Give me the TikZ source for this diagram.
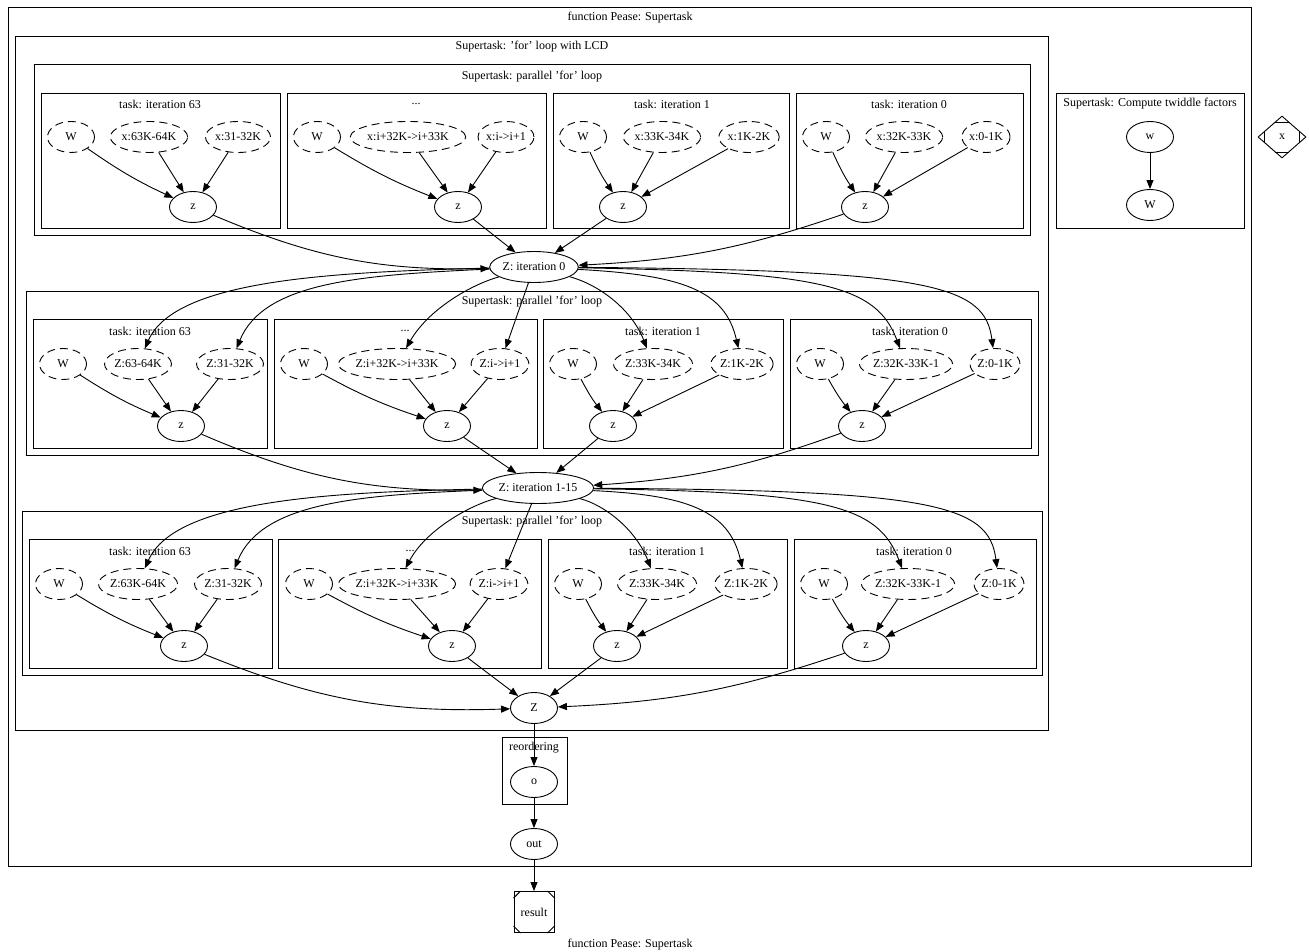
\documentclass[tikz,border=0pt]{standalone}
\usepackage{fontspec}
\setmainfont{Liberation Serif}
\usetikzlibrary{shapes.geometric,arrows.meta,calc}
\begin{document}
\begin{tikzpicture}[x=1pt,y=-1pt,
  font=\fontsize{12}{14}\selectfont,
  box/.style={draw, line width=0.9pt},
  lbl/.style={inner sep=0pt},
  el/.style={ellipse, draw, line width=0.9pt, inner sep=0pt, minimum width=47pt, minimum height=31pt},
  del/.style={el, dash pattern=on 8pt off 5pt},
  arr/.style={line width=0.9pt, -{Triangle[length=9pt,width=7pt]}},
  cornerln/.style={line width=0.9pt}]
\useasboundingbox (0,0) rectangle (1309,952);

% ---- clusters ----
\draw[box] (8,7) rectangle (1251,866);
\node[lbl] (lOuter) at (630,18) {function Pease: Supertask};
\draw[box] (15,36) rectangle (1048,730);
\node[lbl] (lLCD) at (532,47) {Supertask: 'for' loop with LCD};

\draw[box] (34,64) rectangle (1030,235);
\node[lbl] (lPa) at (532,77) {Supertask: parallel 'for' loop};
\draw[box] (26,291) rectangle (1038,455);
\node[lbl] (lPb) at (532,302) {Supertask: parallel 'for' loop};
\draw[box] (22,511) rectangle (1042,675);
\node[lbl] (lPc) at (532,522) {Supertask: parallel 'for' loop};

% ---- row a ----
\draw[box] (41,93) rectangle (280,228);
\node[lbl] (la1) at (160,104) {task: iteration 63};
\node[del] (a1w) at (71,137) {W};
\node[del] (a1p) at (149,137) {x:63K-64K};
\node[del] (a1q) at (238,137) {x:31-32K};
\node[el]  (a1z) at (193,207) {z};

\draw[box] (287,93) rectangle (546,228);
\node[lbl] (la2) at (416,104) {...};
\node[del] (a2w) at (317,137) {W};
\node[del] (a2p) at (408,137) {x:i+32K->i+33K};
\node[del] (a2q) at (506,137) {x:i->i+1};
\node[el]  (a2z) at (458,207) {z};

\draw[box] (553,93) rectangle (789,228);
\node[lbl] (la3) at (672,104) {task: iteration 1};
\node[del] (a3w) at (583,137) {W};
\node[del] (a3p) at (662,137) {x:33K-34K};
\node[del] (a3q) at (749,137) {x:1K-2K};
\node[el]  (a3z) at (623,207) {z};

\draw[box] (796,93) rectangle (1023,228);
\node[lbl] (la4) at (909,104) {task: iteration 0};
\node[del] (a4w) at (826,137) {W};
\node[del] (a4p) at (904,137) {x:32K-33K};
\node[del] (a4q) at (986,137) {x:0-1K};
\node[el]  (a4z) at (865,207) {z};

\node[el] (Z0) at (534,267) {Z: iteration 0};

% ---- row b ----
\draw[box] (33,319) rectangle (267,448);
\node[lbl] (lb1) at (150,331) {task: iteration 63};
\node[del] (b1w) at (63,364) {W};
\node[del] (b1p) at (138,364) {Z:63-64K};
\node[del] (b1q) at (230,364) {Z:31-32K};
\node[el]  (b1z) at (181,426) {z};

\draw[box] (274,319) rectangle (537,448);
\node[lbl] (lb2) at (405,331) {...};
\node[del] (b2w) at (304,364) {W};
\node[del] (b2p) at (397,364) {Z:i+32K->i+33K};
\node[del] (b2q) at (500,364) {Z:i->i+1};
\node[el]  (b2z) at (447,426) {z};

\draw[box] (543,319) rectangle (783,448);
\node[lbl] (lb3) at (663,331) {task: iteration 1};
\node[del] (b3w) at (573,364) {W};
\node[del] (b3p) at (653,364) {Z:33K-34K};
\node[del] (b3q) at (742,364) {Z:1K-2K};
\node[el]  (b3z) at (613,426) {z};

\draw[box] (790,319) rectangle (1031,448);
\node[lbl] (lb4) at (910,331) {task: iteration 0};
\node[del] (b4w) at (820,364) {W};
\node[del] (b4p) at (906,364) {Z:32K-33K-1};
\node[del] (b4q) at (995,364) {Z:0-1K};
\node[el]  (b4z) at (862,426) {z};

\node[el] (Z1) at (538,488) {Z: iteration 1-15};

% ---- row c ----
\draw[box] (29,539) rectangle (272,668);
\node[lbl] (lc1) at (150,551) {task: iteration 63};
\node[del] (c1w) at (59,584) {W};
\node[del] (c1p) at (138,584) {Z:63K-64K};
\node[del] (c1q) at (228,584) {Z:31-32K};
\node[el]  (c1z) at (184,646) {z};

\draw[box] (278,539) rectangle (541,668);
\node[lbl] (lc2) at (410,551) {...};
\node[del] (c2w) at (309,584) {W};
\node[del] (c2p) at (397,584) {Z:i+32K->i+33K};
\node[del] (c2q) at (499,584) {Z:i->i+1};
\node[el]  (c2z) at (452,646) {z};

\draw[box] (548,539) rectangle (787,668);
\node[lbl] (lc3) at (667,551) {task: iteration 1};
\node[del] (c3w) at (578,584) {W};
\node[del] (c3p) at (657,584) {Z:33K-34K};
\node[del] (c3q) at (746,584) {Z:1K-2K};
\node[el]  (c3z) at (617,646) {z};

\draw[box] (794,539) rectangle (1036,668);
\node[lbl] (lc4) at (914,551) {task: iteration 0};
\node[del] (c4w) at (824,584) {W};
\node[del] (c4p) at (908,584) {Z:32K-33K-1};
\node[del] (c4q) at (999,584) {Z:0-1K};
\node[el]  (c4z) at (866,646) {z};

\node[el] (Zf) at (534,708) {Z};

% ---- reordering / output ----
\draw[box] (502,737) rectangle (567,804);
\node[lbl] (lre) at (534,748) {reordering};
\node[el] (o) at (534,782) {o};
\node[el] (out) at (534,844) {out};
\node[draw, line width=0.9pt, minimum width=40pt, minimum height=41pt, inner sep=0pt] (res) at (534,912) {result};
\draw[cornerln] ($(res.north west)+(0,7)$) -- ($(res.north west)+(7,0)$);
\draw[cornerln] ($(res.north east)+(0,7)$) -- ($(res.north east)+(-7,0)$);
\draw[cornerln] ($(res.south west)+(0,-7)$) -- ($(res.south west)+(7,0)$);
\draw[cornerln] ($(res.south east)+(0,-7)$) -- ($(res.south east)+(-7,0)$);

% ---- twiddle ----
\draw[box] (1056,93) rectangle (1244,228);
\node[lbl] (ltw) at (1150,104) {Supertask: Compute twiddle factors};
\node[el] (tw) at (1150,137) {w};
\node[el] (tW) at (1150,205) {W};

% ---- x diamond ----
\node[diamond, draw, line width=0.9pt, inner sep=0pt, minimum width=48pt, minimum height=42pt] (xd) at (1282,137) {x};
\draw[cornerln] ($(xd.north)!0.3!(xd.west)$) -- ($(xd.north)!0.3!(xd.east)$);
\draw[cornerln] ($(xd.south)!0.3!(xd.west)$) -- ($(xd.south)!0.3!(xd.east)$);
\draw[cornerln] ($(xd.west)!0.3!(xd.north)$) -- ($(xd.west)!0.3!(xd.south)$);
\draw[cornerln] ($(xd.east)!0.3!(xd.north)$) -- ($(xd.east)!0.3!(xd.south)$);

% ---- edges: inside tasks ----
\foreach \r in {a,b,c}{
  \foreach \t in {1,2,3,4}{
    \draw[arr] (\r\t w) to[bend right=5] (\r\t z);
    \draw[arr] (\r\t p) -- (\r\t z);
    \draw[arr] (\r\t q) -- (\r\t z);
  }
}

% row a -> Z0
\draw[arr] (a1z) to[bend right=12] (Z0);
\draw[arr] (a2z) -- (Z0);
\draw[arr] (a3z) -- (Z0);
\draw[arr] (a4z) to[bend left=8] (Z0);

% Z0 -> row b
\draw[arr] (Z0) .. controls (330,272) and (175,280) .. (b1p);
\draw[arr] (Z0) .. controls (360,275) and (264,282) .. (b1q);
\draw[arr] (Z0) .. controls (470,285) and (428,310) .. (b2p);
\draw[arr] (Z0) -- (b2q);
\draw[arr] (Z0) .. controls (600,285) and (632,310) .. (b3p);
\draw[arr] (Z0) .. controls (682,275) and (725,290) .. (b3q);
\draw[arr] (Z0) .. controls (822,272) and (876,285) .. (b4p);
\draw[arr] (Z0) .. controls (932,270) and (985,285) .. (b4q);

% row b -> Z1
\draw[arr] (b1z) to[bend right=12] (Z1);
\draw[arr] (b2z) -- (Z1);
\draw[arr] (b3z) -- (Z1);
\draw[arr] (b4z) to[bend left=8] (Z1);

% Z1 -> row c
\draw[arr] (Z1) .. controls (330,492) and (175,500) .. (c1p);
\draw[arr] (Z1) .. controls (360,495) and (262,502) .. (c1q);
\draw[arr] (Z1) .. controls (470,505) and (426,530) .. (c2p);
\draw[arr] (Z1) -- (c2q);
\draw[arr] (Z1) .. controls (605,505) and (636,530) .. (c3p);
\draw[arr] (Z1) .. controls (686,495) and (729,510) .. (c3q);
\draw[arr] (Z1) .. controls (826,492) and (878,505) .. (c4p);
\draw[arr] (Z1) .. controls (936,490) and (989,505) .. (c4q);

% row c -> Z
\draw[arr] (c1z) to[bend right=12] (Zf);
\draw[arr] (c2z) -- (Zf);
\draw[arr] (c3z) -- (Zf);
\draw[arr] (c4z) to[bend left=8] (Zf);

\draw[arr] (Zf) -- (o);
\draw[arr] (o) -- (out);
\draw[arr] (out) -- (res);
\draw[arr] (tw) -- (tW);

\node[lbl] (lBottom) at (630,945) {function Pease: Supertask};
\end{tikzpicture}
\end{document}
